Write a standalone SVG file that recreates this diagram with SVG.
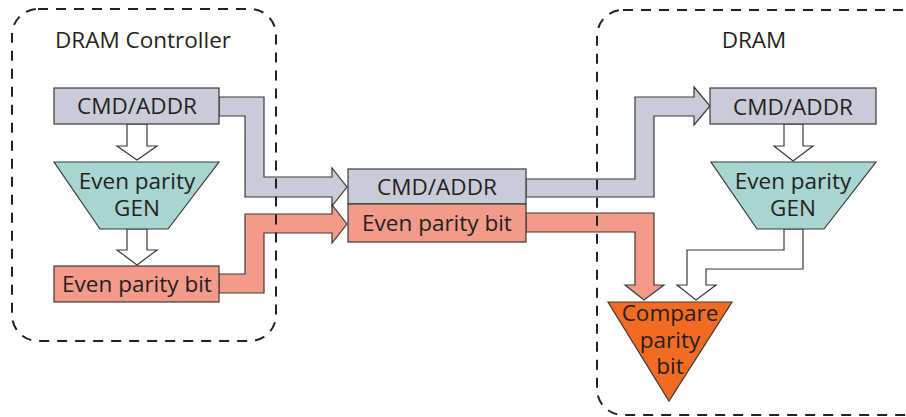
<svg xmlns="http://www.w3.org/2000/svg" width="906" height="417" viewBox="0 0 906 417">
<style>
.t{font-family:"Open Sans","Noto Sans","Liberation Sans",sans-serif;font-size:22.5px;fill:#231f20;text-anchor:middle}
.g{fill:#c9ccd8;stroke:#3a3a3a;stroke-width:1.2}
.s{fill:#f49a8b;stroke:#3a3a3a;stroke-width:1.2}
.tl{fill:#a8d5cf;stroke:#3a3a3a;stroke-width:1.2}
.o{fill:#f26b22;stroke:#3a3a3a;stroke-width:1.2}
.w{fill:#ffffff;stroke:#3a3a3a;stroke-width:1.2}
.d{fill:none;stroke:#222;stroke-width:2;stroke-dasharray:10 8}
</style>
<rect width="906" height="417" fill="#ffffff"/>
<g id="connectors">
<polygon class="w" points="127,124 127,146 117,146 137,160 157,146 147,146 147,124"/>
<polygon class="w" points="127,229 127,250 117,250 137,265 157,250 147,250 147,229"/>
<polygon class="g" points="219,97 264,97 264,177 332,177 332,168 347,187 332,206 332,197 245,197 245,116 219,116"/>
<polygon class="s" points="219,274 245,274 245,214 332,214 332,205 347,224 332,243 332,233 264,233 264,293 219,293"/>
<polygon class="g" points="526,179 635,179 635,97 694,97 694,87 710,106 694,125 694,116 654,116 654,197 526,197"/>
<polygon class="s" points="526,213 654,213 654,285 664,285 644,300 625,285 635,285 635,232 526,232"/>
<polygon class="w" points="784,124 784,146 774,146 793,161 813,146 803,146 803,124"/>
<polygon class="w" points="784,229 784,250 687,250 687,285 677,285 696,300 716,285 706,285 706,269 803,269 803,229"/>
</g>
<g id="ctrl-cmd">
<rect class="g" x="54" y="88" width="165" height="36"/>
<text class="t" x="137" y="114">CMD/ADDR</text>
</g>
<g id="ctrl-gen">
<polygon class="tl" points="54,162 219,162 168,229 100,229"/>
<text class="t" x="137" y="189">Even parity</text>
<text class="t" x="137" y="216">GEN</text>
</g>
<g id="ctrl-bit">
<rect class="s" x="54" y="266" width="165" height="36"/>
<text class="t" x="137" y="292">Even parity bit</text>
</g>
<g id="bus-cmd">
<rect class="g" x="348" y="169" width="178" height="35"/>
<text class="t" x="437" y="195">CMD/ADDR</text>
</g>
<g id="bus-bit">
<rect class="s" x="348" y="204" width="178" height="38"/>
<text class="t" x="437" y="231">Even parity bit</text>
</g>
<g id="dram-cmd">
<rect class="g" x="710" y="88" width="166" height="36"/>
<text class="t" x="793" y="115">CMD/ADDR</text>
</g>
<g id="dram-gen">
<polygon class="tl" points="711,162 876,162 824,229 757,229"/>
<text class="t" x="793" y="189">Even parity</text>
<text class="t" x="793" y="216">GEN</text>
</g>
<g id="compare">
<polygon class="o" points="608,302 732,302 669,401"/>
<text class="t" x="670" y="321">Compare</text>
<text class="t" x="670" y="348">parity</text>
<text class="t" x="670" y="374">bit</text>
</g>
<g id="dram-controller">
<rect class="d" x="12" y="9" width="264" height="332" rx="26"/>
<text class="t" x="143" y="48">DRAM Controller</text>
</g>
<g id="dram">
<rect class="d" x="597" y="10" width="336" height="405" rx="26"/>
<text class="t" x="754" y="48">DRAM</text>
</g>
</svg>
